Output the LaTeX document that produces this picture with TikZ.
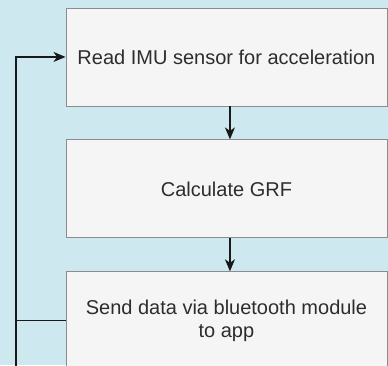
\documentclass[tikz,border=0pt]{standalone}
\usepackage{fontspec}
\setmainfont{Liberation Sans}
\usetikzlibrary{arrows.meta,positioning}
\definecolor{bgblue}{RGB}{205,232,238}
\definecolor{boxfill}{RGB}{245,245,245}
\definecolor{boxline}{RGB}{140,140,140}
\definecolor{txtgray}{RGB}{45,45,45}
\begin{document}
\begin{tikzpicture}[x=1pt,y=-1pt,
    stepbox/.style={draw=boxline,fill=boxfill,line width=0.9pt,minimum width=321pt,minimum height=98pt,
        inner sep=0pt,align=center,text=txtgray,font=\fontsize{20pt}{23pt}\selectfont},
    flow/.style={draw=black!90,line width=1.1pt,-{Stealth[length=12pt,width=10pt,inset=3.5pt]}}]

\fill[bgblue] (0,0) rectangle (388,365);
\useasboundingbox (0,0) rectangle (388,365);

\node[stepbox,anchor=north west] (read) at (65.5,7.5) {Read IMU sensor for acceleration};
\node[stepbox,below=33pt of read] (calc) {Calculate GRF};
\node[stepbox,below=33pt of calc] (send) {Send data via bluetooth module\\to app};

\draw[flow] ([xshift=3.5pt]read.south) -- ([xshift=3.5pt]calc.north);
\draw[flow] ([xshift=3.5pt]calc.south) -- ([xshift=3.5pt]send.north);

% loop back to the top
\coordinate (loopbot) at (16,366);
\draw[line width=1.1pt,draw=black!90] (send.west) -- (send.west -| loopbot);
\draw[flow] (loopbot) |- (read.west);
\end{tikzpicture}
\end{document}
